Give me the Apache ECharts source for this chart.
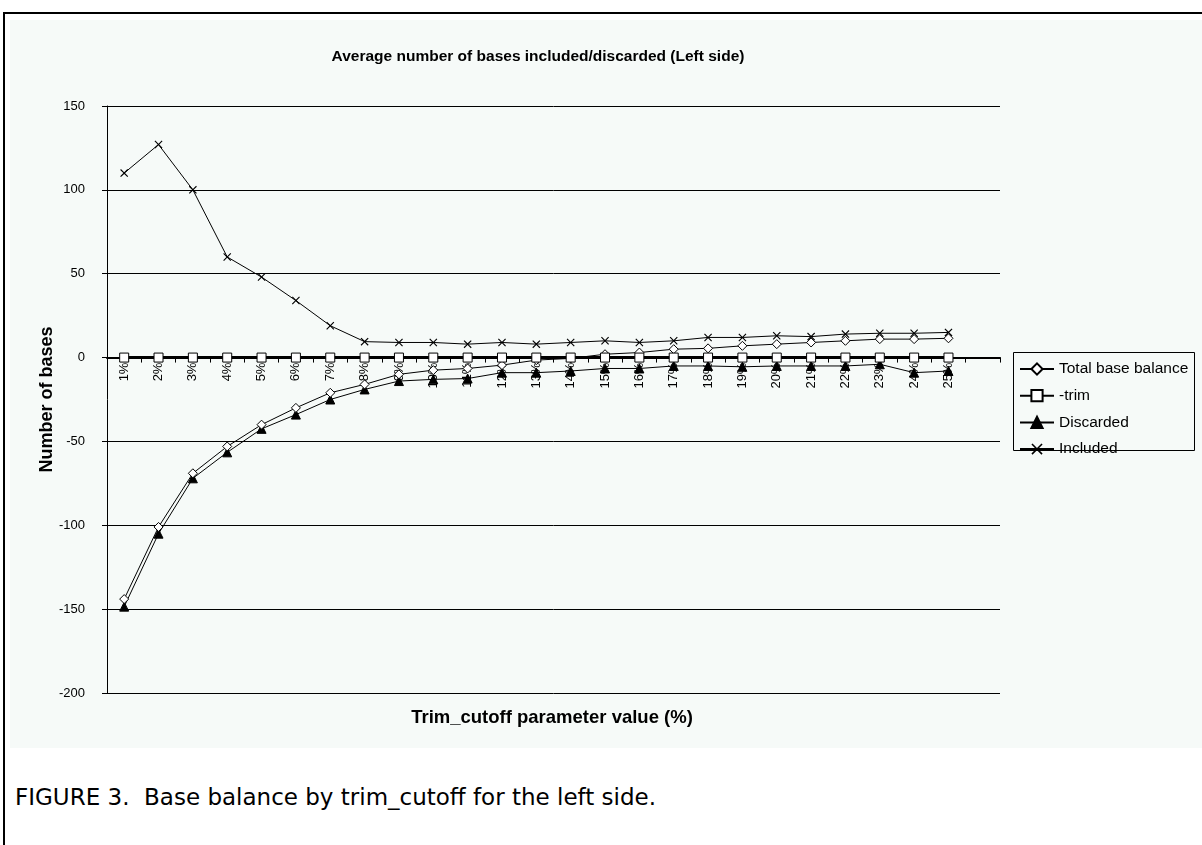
<!DOCTYPE html>
<html>
<head>
<meta charset="utf-8">
<script src="https://cdn.jsdelivr.net/npm/echarts@6/dist/echarts.min.js"></script>
<style>
  html, body { margin: 0; padding: 0; background: #ffffff; }
  body { width: 1202px; height: 845px; position: relative; overflow: hidden; }
  #frame {
    position: absolute; left: 3px; top: 12px; width: 1210px; height: 850px;
    border-left: 2px solid #000; border-top: 2px solid #000;
  }
  #chart {
    position: absolute; left: 10px; top: 20px; width: 1192px; height: 728px;
  }
  #caption {
    position: absolute; left: 15px; top: 784px;
    font-family: "DejaVu Sans", Verdana, sans-serif; font-size: 23px; color: #000;
    white-space: pre;
  }
</style>
</head>
<body>
<div id="frame"></div>
<div id="chart"></div>
<div id="caption">FIGURE 3.  Base balance by trim_cutoff for the left side.</div>
<script>
// Trim_cutoff settings (the trailing blank slot leaves room after 25%)
const categories = ['1%', '2%', '3%', '4%', '5%', '6%', '7%', '8%', '9%', '10%',
  '11%', '12%', '13%', '14%', '15%', '16%', '17%', '18%', '19%', '20%',
  '21%', '22%', '23%', '24%', '25%', ''];

// Average number of bases per trim_cutoff value
const totalBaseBalance = [-144, -101, -69, -53, -40, -30, -21, -16, -10, -7.5,
  -6.5, -4.5, -1.5, -0.5, 2, 3, 5, 5.5, 7, 8,
  9, 10, 11, 11, 11.5];
const trim = [0, 0, 0, 0, 0, 0, 0, 0, 0, 0,
  0, 0, 0, 0, 0, 0, 0, 0, 0, 0,
  0, 0, 0, 0, 0];
const discarded = [-148.5, -105, -72, -56.5, -42.5, -34, -25, -19, -14, -13,
  -12.5, -9, -9, -8, -6.5, -6.5, -5, -5, -5.5, -5,
  -5, -5, -4, -9, -8];
const included = [110, 127, 100, 60, 48, 34, 19, 9.5, 9, 9,
  8, 9, 8, 9, 10, 9, 10, 12, 12, 13,
  12.5, 14, 14.5, 14.5, 15];

const yRange = { min: -200, max: 150, step: 50 };

const FONT = '"Liberation Sans", Arial, sans-serif';
const crossPath = 'path://M0,1L1,0L5,4L9,0L10,1L6,5L10,9L9,10L5,6L1,10L0,9L4,5Z';

// plot box inside the chart container
const GRID = { left: 97, top: 86, right: 202, bottom: 55 };
const CHART_H = 728;
const plotH = CHART_H - GRID.top - GRID.bottom;
// the category axis sits on the value 0 line
const zeroShift = -plotH * (0 - yRange.min) / (yRange.max - yRange.min);

const chart = echarts.init(document.getElementById('chart'), null, { renderer: 'canvas' });

function lineSeries(name, data, symbol, opts) {
  return Object.assign({
    name: name,
    type: 'line',
    data: data,
    symbol: symbol,
    symbolSize: 9,
    showAllSymbol: true,
    animation: false,
    lineStyle: { color: '#000', width: 1 },
    itemStyle: { color: '#fff', borderColor: '#000', borderWidth: 1 }
  }, opts || {});
}

chart.setOption({
  backgroundColor: '#f6faf8',
  animation: false,
  title: {
    text: 'Average number of bases included/discarded (Left side)',
    left: 523, top: 24, textAlign: 'center',
    textStyle: { fontFamily: FONT, fontSize: 15.5, fontWeight: 'bold', color: '#000' }
  },
  grid: { left: GRID.left, top: GRID.top, right: GRID.right, bottom: GRID.bottom, containLabel: false },
  legend: {
    orient: 'vertical',
    left: 1004, top: 336,
    itemWidth: 34, itemHeight: 14, itemGap: 10.7,
    textStyle: { fontFamily: FONT, fontSize: 15.5, color: '#000' },
    data: ['Total base balance', '-trim', 'Discarded', 'Included']
  },
  graphic: [
    {
      type: 'rect', left: 1001, top: 330, z: 100,
      shape: { width: 181, height: 98 },
      style: { fill: 'none', stroke: '#000', lineWidth: 1 }
    },
    {
      type: 'text', x: 542, y: 698, z: 100,
      style: {
        text: 'Trim_cutoff parameter value (%)',
        align: 'center', verticalAlign: 'middle',
        font: 'bold 18.5px ' + FONT, fill: '#000'
      }
    }
  ],
  xAxis: {
    type: 'category',
    data: categories,
    boundaryGap: true,
    position: 'bottom',
    offset: zeroShift,
    axisLine: { onZero: false, lineStyle: { color: '#000', width: 2 } },
    axisTick: { show: true, length: 5, lineStyle: { color: '#000', width: 1 } },
    axisLabel: { interval: 0, rotate: 90, margin: 5, fontFamily: FONT, fontSize: 13, color: '#000' },
    splitLine: { show: false }
  },
  yAxis: {
    type: 'value',
    min: yRange.min, max: yRange.max, interval: yRange.step,
    name: 'Number of bases',
    nameLocation: 'middle',
    nameGap: 51,
    nameMoveOverlap: false,
    nameTextStyle: { fontFamily: FONT, fontSize: 18, fontWeight: 'bold', color: '#000' },
    axisLine: { show: true, lineStyle: { color: '#000', width: 1 } },
    axisTick: { show: true, length: 5, lineStyle: { color: '#000' } },
    axisLabel: { margin: 22, fontFamily: FONT, fontSize: 13, color: '#000' },
    splitLine: { show: true, lineStyle: { color: '#000', width: 1 } }
  },
  series: [
    lineSeries('Total base balance', totalBaseBalance, 'diamond', { z: 3 }),
    lineSeries('-trim', trim, 'rect', { z: 4, symbolSize: 9, lineStyle: { color: '#000', width: 3 } }),
    lineSeries('Discarded', discarded, 'triangle', { z: 2, itemStyle: { color: '#000', borderColor: '#000', borderWidth: 1 } }),
    lineSeries('Included', included, crossPath, { z: 3, symbolSize: 8, itemStyle: { color: '#000', borderColor: '#000', borderWidth: 0 } })
  ]
});
</script>
</body>
</html>
